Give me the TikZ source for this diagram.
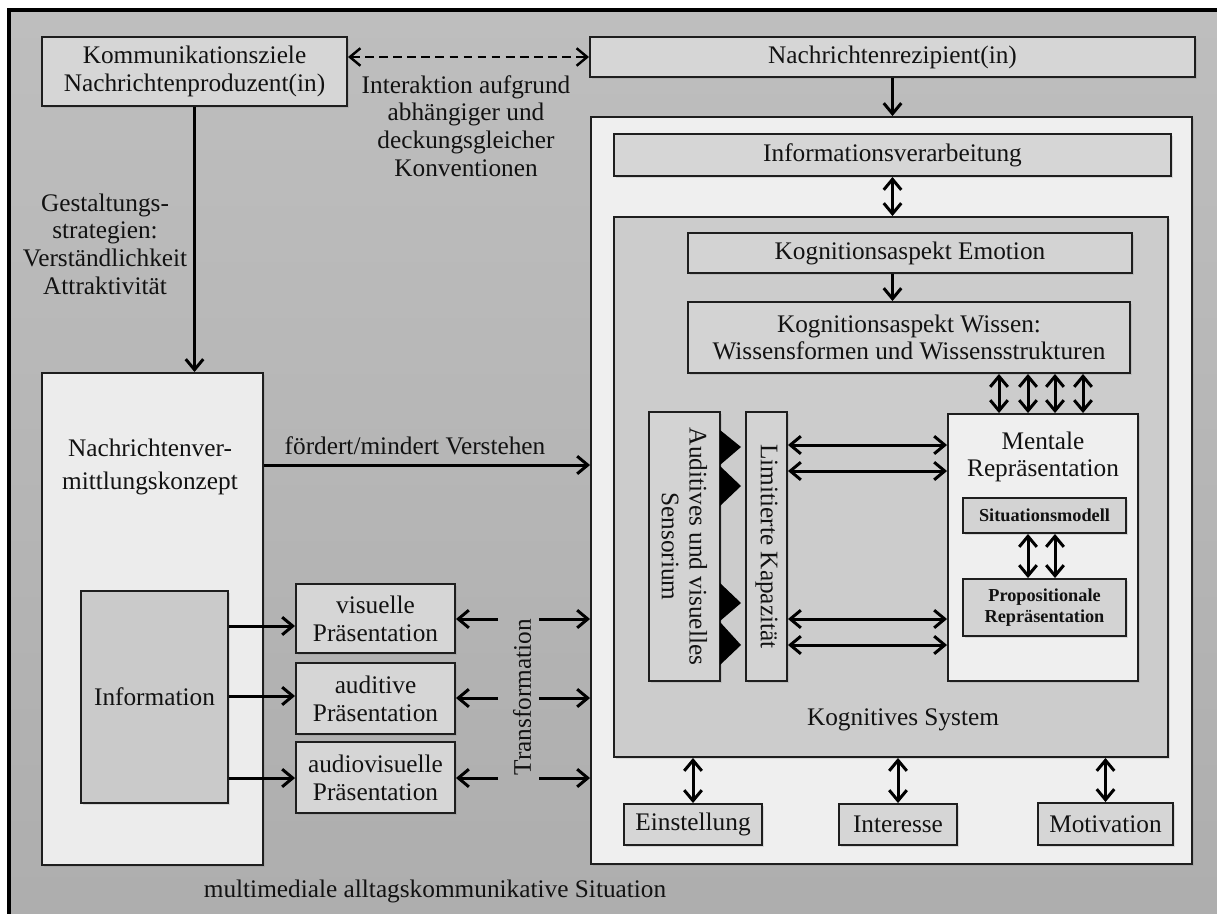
\documentclass[tikz,border=0pt]{standalone}
\usepackage{fontspec}
\setmainfont{Liberation Serif}
\usetikzlibrary{arrows.meta,shadows,fit}

\definecolor{bgtop}{HTML}{BEBEBE}
\definecolor{bgbot}{HTML}{ADADAD}
\definecolor{boxmid}{HTML}{D6D6D6}
\definecolor{boxlight}{HTML}{ECECEC}
\definecolor{boxwhite}{HTML}{EFEFEF}
\definecolor{boxks}{HTML}{CCCCCC}
\definecolor{boxinner}{HTML}{D3D3D3}
\definecolor{boxinfo}{HTML}{CACACA}
\definecolor{edge}{HTML}{1E1E1E}
\definecolor{txt}{HTML}{121212}

\newcommand\fmain{\fontsize{14.4pt}{15.8pt}\selectfont}
\newcommand\fbig{\fontsize{14.4pt}{18.5pt}\selectfont}
\newcommand\fsmall{\fontsize{10.4pt}{12.4pt}\selectfont\bfseries}

\tikzset{
  >={Straight Barb[length=6pt,width=10pt]},
  box/.style={draw=edge, line width=1.1pt, inner sep=0pt,
    drop shadow={shadow xshift=1.4pt, shadow yshift=-1.4pt, opacity=0.22}},
  lbl/.style={font=\fmain, text=txt, align=center, inner sep=0pt},
  arr/.style={line width=1.7pt, draw=black, ->},
  darr/.style={line width=1.7pt, draw=black, <->},
  dasharr/.style={line width=1.4pt, draw=black, <->, dash pattern=on 5pt off 3pt},
}

\begin{document}
\begin{tikzpicture}[x=0.02cm,y=-0.02cm]
\useasboundingbox (0,0) rectangle (1217,913);
\clip (0,0) rectangle (1217,913);
\fill[white] (0,0) rectangle (1217,913);

% surrounding communication situation
\draw[line width=1.8pt, draw=black, top color=bgtop, bottom color=bgbot]
  (9,10) rectangle (1260,960);

% producer side boxes
\node[box, fill=boxmid, fit={(42,37) (347,106)}] (komm) {};
\node[box, fill=boxlight, fit={(42,373) (263,865)}] (nvk) {};
\node[box, fill=boxinfo, fit={(81,591) (228,803)}] (info) {};
\node[box, fill=boxmid, fit={(296,584) (455,653)}] (vis) {};
\node[box, fill=boxmid, fit={(296,663) (455,734)}] (aud) {};
\node[box, fill=boxmid, fit={(296,742) (455,813)}] (avis) {};

% recipient side boxes
\node[box, fill=boxmid, fit={(590,37) (1195,77)}] (rez) {};
\node[box, fill=boxwhite, fit={(591,117) (1192,864)}] (rbox) {};
\node[box, fill=boxmid, fit={(614,134) (1171,176)}] (iv) {};
\node[box, fill=boxks, fit={(614,217) (1168,757)}] (ks) {};
\node[box, fill=boxinner, fit={(688,233) (1132,273)}] (emo) {};
\node[box, fill=boxinner, fit={(688,302) (1130,373)}] (wis) {};
\node[box, fill=boxinner, fit={(649,412) (720,681)}] (sens) {};
\node[box, fill=boxinner, fit={(746,412) (787,681)}] (lim) {};
\node[box, fill=boxwhite, fit={(948,414) (1138,681)}] (ment) {};
\node[box, fill=boxinner, fit={(963,498) (1126,533)}] (sit) {};
\node[box, fill=boxinner, fit={(963,579) (1126,636)}] (prop) {};
\node[box, fill=boxmid, fit={(624,804) (762,845)}] (ein) {};
\node[box, fill=boxmid, fit={(839,804) (957,845)}] (int) {};
\node[box, fill=boxmid, fit={(1038,803) (1173,845)}] (mot) {};

% box texts
\node[lbl] (kommtext) at (komm.center) {Kommunikationsziele\\Nachrichtenproduzent(in)};
\node[lbl] (infotext) at (info.center) {Information};
\node[lbl] (vistext) at (vis.center) {visuelle\\Präsentation};
\node[lbl] (audtext) at (aud.center) {auditive\\Präsentation};
\node[lbl] (avistext) at (avis.center) {audiovisuelle\\Präsentation};
\node[lbl] (reztext) at (rez.center) {Nachrichtenrezipient(in)};
\node[lbl] (ivtext) at (iv.center) {Informationsverarbeitung};
\node[lbl] (emotext) at (emo.center) {Kognitionsaspekt Emotion};
\node[lbl] (wistext) at (wis.center)
  {Kognitionsaspekt Wissen:\\Wissensformen und Wissensstrukturen};
\node[lbl, font=\fsmall] (sittext) at (sit.center) {Situationsmodell};
\node[lbl, font=\fsmall] (proptext) at (prop.center) {Propositionale\\Repräsentation};
\node[lbl] (eintext) at (ein.center) {Einstellung};
\node[lbl] (inttext) at (int.center) {Interesse};
\node[lbl] (mottext) at (mot.center) {Motivation};
\node[lbl, rotate=-90] (senstext) at (sens.center) {Auditives und visuelles\\Sensorium};
\node[lbl, rotate=-90] (limtext) at (lim.center) {Limitierte Kapazität};

% free labels
\node[lbl] (interaktion) at (466,126)
  {Interaktion aufgrund\\abhängiger und\\deckungsgleicher\\Konventionen};
\node[lbl] (gestaltung) at (105,244)
  {Gestaltungs-\\strategien:\\Verständlichkeit\\Attraktivität};
\node[lbl] (foerdert) at (415,446) {fördert/mindert Verstehen};
\node[lbl, font=\fbig] (nvktext) at (150,467) {Nachrichtenver-\\mittlungskonzept};
\node[lbl] (situation) at (435,891) {multimediale alltagskommunikative Situation};
\node[lbl] (kstext) at (903,720) {Kognitives System};
\node[lbl] (menttext) at (1043,457) {Mentale\\Repräsentation};
\node[lbl, rotate=90] (trans) at (522,697) {Transformation};

% sensory channels into limited capacity
\fill[black] (720,430) -- (741,447) -- (720,465) -- cycle;
\fill[black] (720,466) -- (741,486) -- (720,506) -- cycle;
\fill[black] (720,583) -- (741,603) -- (720,621) -- cycle;
\fill[black] (720,622) -- (741,645) -- (720,665) -- cycle;

% connectors, producer side
\draw[dasharr] (komm.east |- rez.west) -- (rez.west);
\draw[arr] (komm.south) -- (komm.south |- nvk.north);
\coordinate (fv) at (263,465);
\draw[arr] (nvk.east |- fv) -- (rbox.west |- fv);

\coordinate (i1) at (0,626);
\coordinate (i2) at (0,696);
\coordinate (i3) at (0,778);
\draw[arr] (info.east |- i1) -- (vis.west |- i1);
\draw[arr] (info.east |- i2) -- (aud.west |- i2);
\draw[arr] (info.east |- i3) -- (avis.west |- i3);

% transformation towards the recipient
\coordinate (tl1) at (498,619);
\coordinate (tr1) at (539,619);
\coordinate (tl2) at (498,698);
\coordinate (tr2) at (539,698);
\coordinate (tl3) at (498,778);
\coordinate (tr3) at (539,778);
\draw[arr] (tl1) -- (vis.east |- tl1);
\draw[arr] (tr1) -- (rbox.west |- tr1);
\draw[arr] (tl2) -- (aud.east |- tl2);
\draw[arr] (tr2) -- (rbox.west |- tr2);
\draw[arr] (tl3) -- (avis.east |- tl3);
\draw[arr] (tr3) -- (rbox.west |- tr3);

% connectors, recipient side
\draw[arr] (rez.south) -- (rez.south |- rbox.north);
\draw[darr] (iv.south) -- (iv.south |- ks.north);
\draw[arr] (emo.south -| iv.south) -- (wis.north -| iv.south);

\foreach \x [count=\i] in {999,1028,1055,1083} {
  \coordinate (w\i) at (\x,0);
  \draw[darr] (wis.south -| w\i) -- (ment.north -| w\i);
}
\foreach \y [count=\i] in {445,471,619,645} {
  \coordinate (h\i) at (0,\y);
  \draw[darr] (lim.east |- h\i) -- (ment.west |- h\i);
}
\foreach \x [count=\i] in {1028,1055} {
  \coordinate (s\i) at (\x,0);
  \draw[darr] (sit.south -| s\i) -- (prop.north -| s\i);
}
\draw[darr] (ein.north |- ks.south) -- (ein.north);
\draw[darr] (int.north |- ks.south) -- (int.north);
\draw[darr] (mot.north |- ks.south) -- (mot.north);
\end{tikzpicture}
\end{document}
